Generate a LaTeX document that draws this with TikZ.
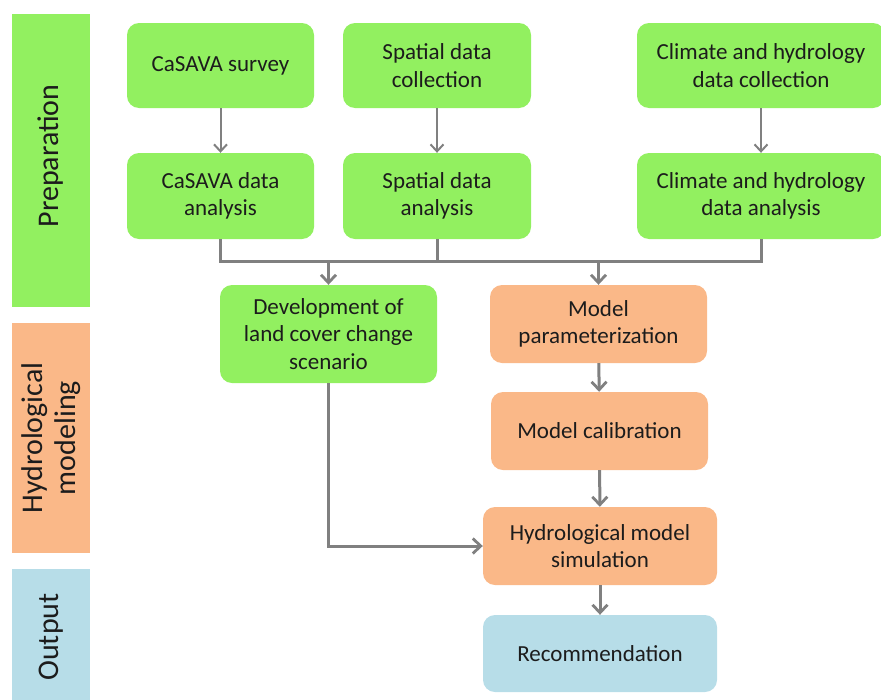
\documentclass[tikz,border=0pt]{standalone}
\usepackage{fontspec}
\setmainfont{Carlito}
\usepackage{tikz}
\usetikzlibrary{arrows.meta, calc, positioning}
\definecolor{prepgreen}{RGB}{146,240,96}
\definecolor{hydroorange}{RGB}{250,184,136}
\definecolor{outblue}{RGB}{183,221,232}
\definecolor{linegray}{RGB}{128,128,128}
\definecolor{textdark}{RGB}{28,28,28}

\begin{document}
\begin{tikzpicture}[
		x=1pt, y=-1pt,
		box/.style={rounded corners=12pt, align=center, text=textdark, inner sep=2pt,
			font=\fontsize{23}{27.5}\selectfont, minimum height=85pt},
		greenbox/.style={box, fill=prepgreen},
		orangebox/.style={box, fill=hydroorange, minimum height=78pt},
		bluebox/.style={box, fill=outblue, minimum height=78pt},
		phase/.style={text=textdark, align=center, font=\fontsize{30}{33}\selectfont, rotate=90},
		link/.style={draw=linegray, line width=3pt},
		flow/.style={link, -{Straight Barb[length=8pt, width=15pt, line width=2.8pt]}},
		thinflow/.style={draw=linegray, line width=2pt, -{Straight Barb[length=7pt, width=13pt, line width=2pt]}}
		]
	\clip (0,0) rectangle (881,699);

	% --- Phase bars ---
	\fill[prepgreen] (12,14) rectangle (90,307);
	\fill[hydroorange] (12,323) rectangle (90,553);
	\fill[outblue] (12,569) rectangle (90,705);
	\node[phase] (prep) at (51,156) {Preparation};
	\node[phase] (hydro) at (51,438) {Hydrological\\modeling};
	\node[phase] (out) at (51,637) {Output};

	% --- Preparation ---
	\node[greenbox, minimum width=187pt] (cs) at (220.5,65.5) {CaSAVA survey};
	\node[greenbox, minimum width=188pt] (sc) at (437,65.5) {Spatial data\\collection};
	\node[greenbox, minimum width=248pt] (cc) at (761,65.5) {Climate and hydrology\\data collection};
	\node[greenbox, minimum width=187pt, minimum height=86pt] (ca) at (220.5,196) {CaSAVA data\\analysis};
	\node[greenbox, minimum width=188pt, minimum height=86pt] (sa) at (437,196) {Spatial data\\analysis};
	\node[greenbox, minimum width=248pt, minimum height=86pt] (ha) at (761,196) {Climate and hydrology\\data analysis};
	\node[greenbox, minimum width=217pt, minimum height=98pt] (dev) at (328.5,334) {Development of\\land cover change\\scenario};

	% --- Hydrological modeling ---
	\node[orangebox, minimum width=217pt] (par) at (598.5,324) {Model\\parameterization};
	\node[orangebox, minimum width=217pt] (cal) at (599.5,431) {Model calibration};
	\node[orangebox, minimum width=234pt] (sim) at (600,546) {Hydrological model\\simulation};

	% --- Output ---
	\node[bluebox, minimum width=234pt, minimum height=77pt] (rec) at (600,653.5) {Recommendation};

	% Collection -> analysis
	\draw[thinflow] (cs) -- (ca);
	\draw[thinflow] (sc) -- (sa);
	\draw[thinflow] (cc) -- (ha);

	% Joining line
	\coordinate (bus) at (0,261);
	\draw[link] (ca.south) -- (ca.south |- bus) -- (ha.south |- bus) -- (ha.south);
	\draw[link] (sa.south) -- (sa.south |- bus);
	\draw[flow] (dev.north |- bus) -- (dev.north);
	\draw[flow] (par.north |- bus) -- (par.north);

	% Modeling chain
	\draw[flow] (par) -- (cal);
	\draw[flow] (cal) -- (sim);
	\draw[flow] (sim) -- (rec);
	\draw[flow] (dev.south) |- (sim.west);

\end{tikzpicture}
\end{document}
